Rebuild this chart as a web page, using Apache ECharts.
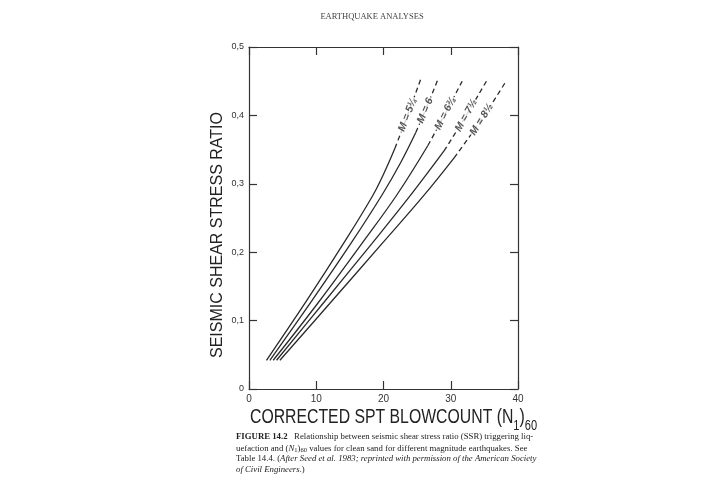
<!DOCTYPE html>
<html>
<head>
<meta charset="utf-8">
<script src="https://cdn.jsdelivr.net/npm/echarts@6/dist/echarts.min.js"></script>
<style>html,body{margin:0;padding:0;background:#fff}#c{width:722px;height:484px}</style>
</head>
<body>
<div id="c"></div>
<script>
// ---- data ----
const xTicks = [0, 10, 20, 30, 40];
const yTickLabels = ['0', '0,1', '0,2', '0,3', '0,4', '0,5'];
const curveNames = ['M = 5¼', 'M = 6', 'M = 6¾', 'M = 7½', 'M = 8½'];

const m525Solid = [[2.6,0.042],[8.5,0.128],[14.2,0.215],[18.3,0.281],[20,0.314],[21.7,0.352]];
const m525Dash  = [[21.7,0.352],[23.6,0.401],[25.5,0.452]];
const m6Solid   = [[3.1,0.042],[9.2,0.127],[15.3,0.215],[19.8,0.284],[22.5,0.33],[24.8,0.375]];
const m6Dash    = [[24.8,0.375],[26.5,0.414],[28.1,0.453]];
const m675Solid = [[3.6,0.042],[10.2,0.125],[16.8,0.213],[22,0.284],[26.6,0.356]];
const m675Dash  = [[26.6,0.356],[29.3,0.405],[31.7,0.45]];
const m75Solid  = [[4.1,0.042],[11,0.125],[18.3,0.213],[24,0.283],[29,0.348]];
const m75Dash   = [[29,0.348],[32.3,0.4],[35.3,0.45]];
const m85Solid  = [[4.6,0.042],[12,0.125],[20,0.215],[26,0.283],[30.5,0.338]];
const m85Dash   = [[30.5,0.338],[34.5,0.393],[38.1,0.448]];

const labelPos = [[23.6,0.401],[26.2,0.407],[29.2,0.403],[32.3,0.4],[34.6,0.394]];
const labelRot = [69, 67, 63, 61, 58];

const solids = [m525Solid, m6Solid, m675Solid, m75Solid, m85Solid];
const dashes = [m525Dash, m6Dash, m675Dash, m75Dash, m85Dash];

const chart = echarts.init(document.getElementById('c'));
const ink = '#2a2a2a';
const series = [];
solids.forEach((d) => {
  series.push({type:'line', data:d, smooth:0.4, symbol:'none', silent:true,
    lineStyle:{color:ink, width:1.3}, z:2});
});
dashes.forEach((d) => {
  series.push({type:'line', data:d, smooth:0.4, symbol:'none', silent:true,
    lineStyle:{color:ink, width:1.3, type:[5,3.5]}, z:2});
});
labelPos.forEach((p, i) => {
  series.push({type:'scatter', data:[p], symbolSize:0, silent:true, z:5,
    label:{show:true, position:'inside', formatter:curveNames[i], rotate:labelRot[i],
      color:ink, fontFamily:'Liberation Sans', fontWeight:'bold', fontStyle:'italic',
      fontSize:10.5, backgroundColor:'#fff', padding:[0,1]}});
});

const axisLine = {show:true, onZero:false, lineStyle:{color:'#333', width:1.2}};
const tick = {show:true, inside:true, length:8, lineStyle:{color:'#333', width:1.2}};

chart.setOption({
  animation:false,
  backgroundColor:'#fff',
  grid:{left:249, right:204, top:47, bottom:95},
  xAxis:[
    {type:'value', min:0, max:40, interval:10, position:'bottom',
     axisLine, axisTick:tick, splitLine:{show:false},
     axisLabel:{color:'#333', fontSize:10, fontFamily:'Liberation Sans', margin:5,
       formatter:v => xTicks.includes(v) ? String(v) : ''}},
    {type:'value', min:0, max:40, interval:10, position:'top',
     axisLine, axisTick:tick, splitLine:{show:false}, axisLabel:{show:false}}
  ],
  yAxis:[
    {type:'value', min:0, max:0.5, interval:0.1, position:'left',
     axisLine, axisTick:tick, splitLine:{show:false},
     axisLabel:{color:'#333', fontSize:9, fontFamily:'Liberation Sans', margin:5,
       formatter:(v) => yTickLabels[Math.round(v*10)]}},
    {type:'value', min:0, max:0.5, interval:0.1, position:'right',
     axisLine, axisTick:tick, splitLine:{show:false}, axisLabel:{show:false}}
  ],
  series,
  graphic:[
    {type:'text', x:372, y:17, style:{text:'EARTHQUAKE ANALYSES', fill:'#444',
      font:'8.5px "Liberation Serif"', textAlign:'center', textVerticalAlign:'middle'}},
    {type:'text', x:218, y:235, rotation:Math.PI/2, style:{text:'SEISMIC SHEAR STRESS RATIO',
      fill:'#222', font:'16px "Liberation Sans"', textAlign:'center', textVerticalAlign:'middle'}},
    {type:'text', x:250, y:407, scaleX:0.79, originX:0, originY:0, style:{
      text:'{m|CORRECTED SPT BLOWCOUNT (N}{s|1}{m|)}{t|60}',
      rich:{m:{fontSize:20, fontFamily:'Liberation Sans', fill:'#222', lineHeight:26, verticalAlign:'top'},
            s:{fontSize:14, fontFamily:'Liberation Sans', fill:'#222', lineHeight:18, verticalAlign:'bottom'},
            t:{fontSize:14, fontFamily:'Liberation Sans', fill:'#222', lineHeight:14, verticalAlign:'bottom'}}}},
    {type:'text', x:236, y:432, style:{
      text:'{b|FIGURE 14.2}   Relationship between seismic shear stress ratio (SSR) triggering liq-',
      font:'8.75px "Liberation Serif"', fill:'#222',
      rich:{b:{fontWeight:'bold', fontSize:8.75, fontFamily:'Liberation Serif', fill:'#222'}}}},
    {type:'text', x:236, y:443, style:{
      text:'uefaction and ({i|N}{s|1}){s|60} values for clean sand for different magnitude earthquakes. See',
      font:'8.75px "Liberation Serif"', fill:'#222',
      rich:{i:{fontStyle:'italic', fontSize:8.75, fontFamily:'Liberation Serif', fill:'#222'},
            s:{fontSize:6.5, fontFamily:'Liberation Serif', fill:'#222', padding:[4,0,0,0]}}}},
    {type:'text', x:236, y:454, style:{
      text:'Table 14.4. ({i|After Seed et al. 1983; reprinted with permission of the American Society}',
      font:'8.75px "Liberation Serif"', fill:'#222',
      rich:{i:{fontStyle:'italic', fontSize:8.75, fontFamily:'Liberation Serif', fill:'#222'}}}},
    {type:'text', x:236, y:465, style:{
      text:'{i|of Civil Engineers.})',
      font:'8.75px "Liberation Serif"', fill:'#222',
      rich:{i:{fontStyle:'italic', fontSize:8.75, fontFamily:'Liberation Serif', fill:'#222'}}}}
  ]
});
</script>
</body>
</html>
